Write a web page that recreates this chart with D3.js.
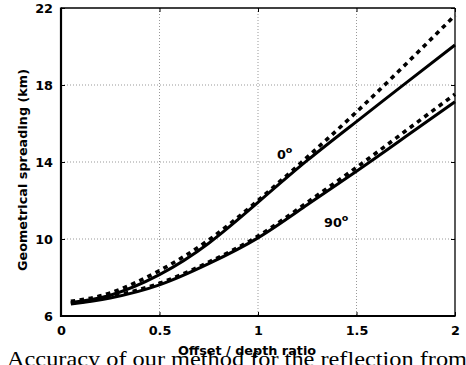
<!DOCTYPE html>
<html>
<head>
<meta charset="utf-8">
<script src="https://cdn.jsdelivr.net/npm/d3@7"></script>
<style>
  body { margin: 0; background: #fff; }
  svg { display: block; }
  .lbl { font-family: "DejaVu Sans", sans-serif; font-weight: bold; font-size: 12.8px; fill: #000; }
</style>
</head>
<body>
<div id="chart"></div>
<script>
const ratio = [0.05, 0.25, 0.5, 0.75, 1.0, 1.25, 1.5, 1.75, 2.0];
const exact0 = [6.76, 7.2, 8.36, 9.95, 12.0, 14.25, 16.6, 19.08, 21.62];
const approx0 = [6.7, 7.08, 8.15, 9.78, 11.9, 14.08, 16.1, 18.1, 20.08];
const exact90 = [6.66, 7.0, 7.7, 8.8, 10.15, 11.9, 13.72, 15.62, 17.52];
const approx90 = [6.62, 6.94, 7.62, 8.72, 10.06, 11.78, 13.52, 15.32, 17.13];
const xTicks = [0, 0.5, 1, 1.5, 2];
const yTicks = [6, 10, 14, 18, 22];
const xTickLabels = ['0', '0.5', '1', '1.5', '2'];
const yTickLabels = ['6', '10', '14', '18', '22'];

const margin = { top: 8, right: 11, bottom: 49, left: 61 };
const W = 466, H = 365;
const width = W - margin.left - margin.right;
const height = H - margin.top - margin.bottom;

const svg = d3.select('#chart').append('svg')
  .attr('width', W)
  .attr('height', H);

// caption below the figure, cut by the page edge
svg.append('text')
  .attr('x', 7)
  .attr('y', 366)
  .attr('textLength', 460)
  .attr('lengthAdjust', 'spacingAndGlyphs')
  .style('font-family', '"Liberation Serif", "Times New Roman", serif')
  .style('font-size', '21px')
  .text('Accuracy of our method for the reflection from');

const g = svg.append('g')
  .attr('transform', `translate(${margin.left}, ${margin.top})`);

const x = d3.scaleLinear().domain([0, 2]).range([0, width]);
const y = d3.scaleLinear().domain([6, 22]).range([height, 0]);

// dotted grid
g.selectAll('.gx')
  .data(xTicks.slice(1, -1))
  .enter().append('line')
  .attr('x1', d => x(d)).attr('x2', d => x(d))
  .attr('y1', 0).attr('y2', height)
  .style('stroke', '#999')
  .style('stroke-dasharray', '1,2');

g.selectAll('.gy')
  .data(yTicks.slice(1, -1))
  .enter().append('line')
  .attr('x1', 0).attr('x2', width)
  .attr('y1', d => y(d)).attr('y2', d => y(d))
  .style('stroke', '#999')
  .style('stroke-dasharray', '1,2');

// axes, ticks pointing inward
const xAxis = d3.axisBottom(x).tickValues(xTicks).tickSize(-4).tickFormat((d, i) => xTickLabels[i]).tickPadding(10);
const yAxis = d3.axisLeft(y).tickValues(yTicks).tickSize(-4).tickFormat((d, i) => yTickLabels[i]).tickPadding(8);

const gx = g.append('g')
  .attr('transform', `translate(0, ${height})`)
  .call(xAxis);
const gy = g.append('g').call(yAxis);
g.append('g').call(d3.axisTop(x).tickValues(xTicks).tickSize(-4).tickFormat(''));
g.append('g').attr('transform', `translate(${width}, 0)`)
  .call(d3.axisRight(y).tickValues(yTicks).tickSize(-4).tickFormat(''));

g.selectAll('.domain').remove();
g.selectAll('.tick line').style('stroke', '#000');

gx.selectAll('text').attr('class', 'lbl').attr('fill', null).attr('dy', '0.71em');
gy.selectAll('text').attr('class', 'lbl').attr('fill', null);

// box
g.append('line').attr('x1', 0).attr('x2', width).attr('y1', 0).attr('y2', 0)
  .style('stroke', '#000').style('stroke-width', 1.3);
g.append('line').attr('x1', width).attr('x2', width).attr('y1', 0).attr('y2', height)
  .style('stroke', '#000').style('stroke-width', 1.3);
g.append('line').attr('x1', 0).attr('x2', 0).attr('y1', -0.5).attr('y2', height + 1)
  .style('stroke', '#000').style('stroke-width', 2.2);
g.append('line').attr('x1', -1).attr('x2', width + 0.6).attr('y1', height).attr('y2', height)
  .style('stroke', '#000').style('stroke-width', 2.2);

// curves
const line = d3.line()
  .x((d, i) => x(ratio[i]))
  .y(d => y(d))
  .curve(d3.curveNatural);

const series = [
  { values: approx0, dashed: false },
  { values: approx90, dashed: false },
  { values: exact0, dashed: true },
  { values: exact90, dashed: true }
];

g.selectAll('.curve')
  .data(series)
  .enter().append('path')
  .attr('d', d => line(d.values))
  .style('fill', 'none')
  .style('stroke', '#000')
  .style('stroke-width', d => d.dashed ? 3.6 : 3)
  .style('stroke-dasharray', d => d.dashed ? '4.5,4.5' : null);

// angle annotations
const notes = [
  { x: 1.096, y: 14.16, label: '0' },
  { x: 1.335, y: 10.64, label: '90' }
];
notes.forEach(n => {
  const t = g.append('text')
    .attr('class', 'lbl')
    .attr('x', x(n.x))
    .attr('y', y(n.y));
  t.append('tspan').text(n.label);
  t.append('tspan').attr('dy', -6).style('font-size', '9.5px').text('o');
});

// axis titles
svg.append('text')
  .attr('class', 'lbl')
  .attr('x', 247)
  .attr('y', 355)
  .attr('text-anchor', 'middle')
  .text('Offset / depth ratio');

svg.append('text')
  .attr('class', 'lbl')
  .attr('transform', 'rotate(-90)')
  .attr('x', -170)
  .attr('y', 26.5)
  .attr('text-anchor', 'middle')
  .text('Geometrical spreading (km)');
</script>
</body>
</html>
